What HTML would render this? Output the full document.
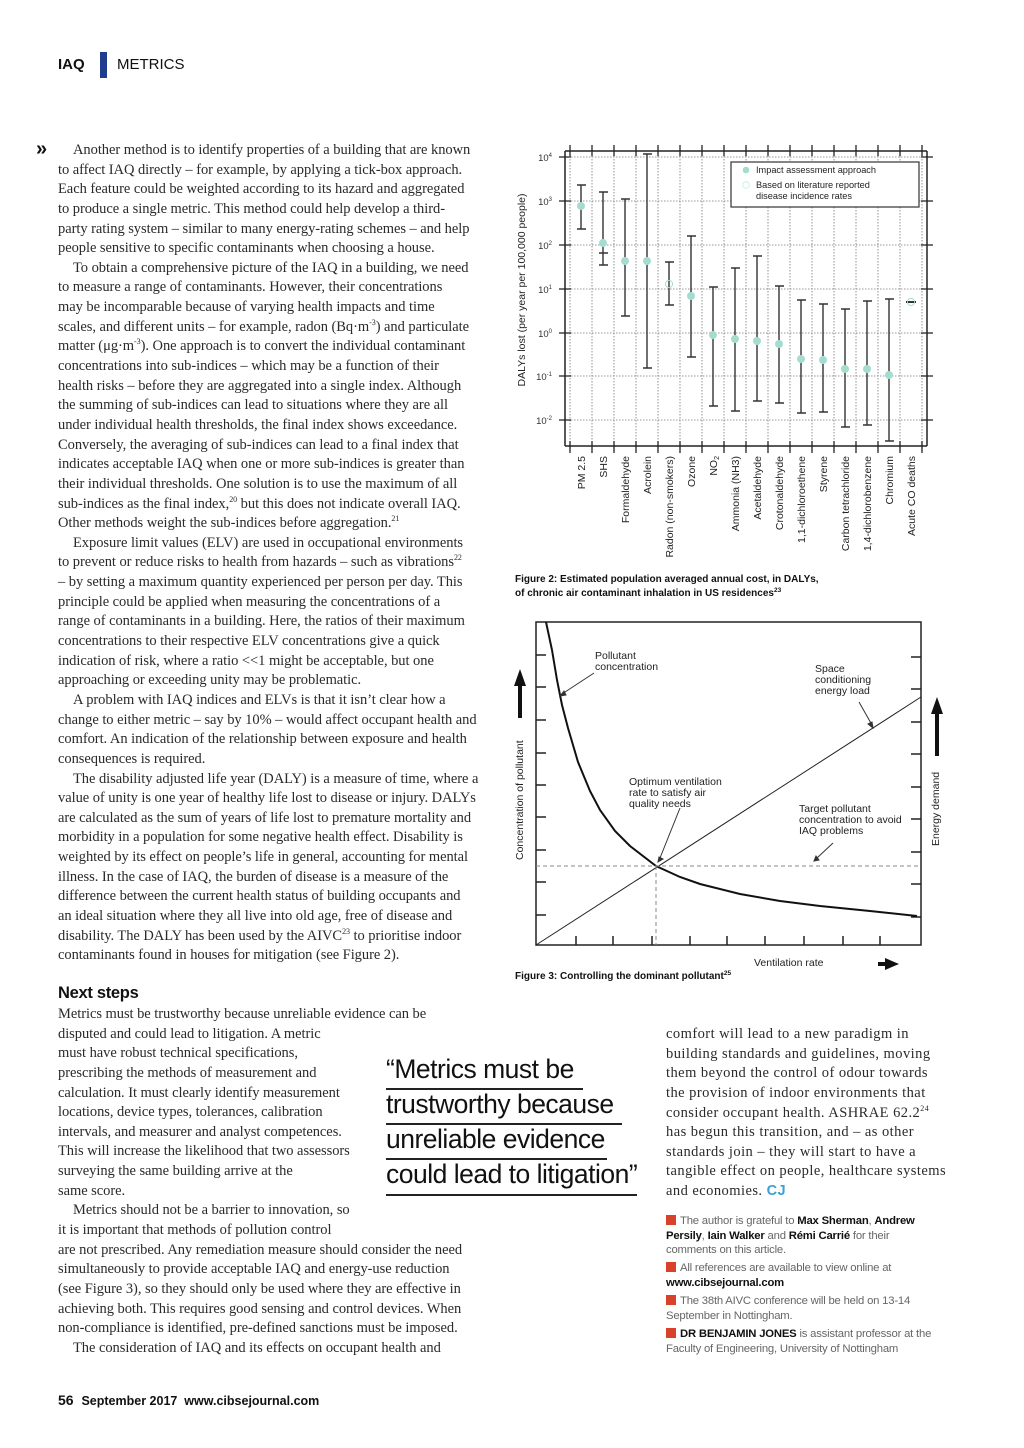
<!DOCTYPE html>
<html><head><meta charset="utf-8"><style>
body{margin:0;background:#fff;}
#p{position:relative;width:1024px;height:1448px;overflow:hidden;background:#fff;color:#222;}
.t{position:absolute;font-family:"Liberation Serif",serif;font-size:14.5px;letter-spacing:-0.05px;line-height:19.65px;white-space:nowrap;color:#2a2a2a;}
.t div{height:19.65px}
.in{padding-left:15px}
sup{font-size:8px;line-height:0}
.sans{font-family:"Liberation Sans",sans-serif;}
.n{position:absolute;left:666px;font-family:"Liberation Sans",sans-serif;font-size:11.3px;color:#666;line-height:14.6px;white-space:nowrap;letter-spacing:-0.2px}
.n b{color:#111}
.sq{display:inline-block;width:10px;height:10px;background:#d9412b;margin-right:4px;vertical-align:-1px}
.q{position:absolute;left:386px;font-family:"Liberation Sans",sans-serif;font-size:26.5px;color:#111;white-space:nowrap;letter-spacing:-0.5px}
.r{position:absolute;left:386px;height:1.5px;background:#222}
</style></head><body><div id="p">
<div class="sans" style="position:absolute;left:58px;top:56px;font-size:15px;font-weight:bold;color:#111">IAQ</div>
<div style="position:absolute;left:100px;top:52px;width:7px;height:26px;background:#1f3c8f"></div>
<div class="sans" style="position:absolute;left:117px;top:56px;font-size:15px;color:#111">METRICS</div>

<div class="sans" style="position:absolute;left:36px;top:138px;font-size:20px;font-weight:bold;color:#111">»</div>
<div class="t" style="left:58px;top:141px">
<div class="in">Another method is to identify properties of a building that are known</div>
<div>to affect IAQ directly – for example, by applying a tick-box approach.</div>
<div>Each feature could be weighted according to its hazard and aggregated</div>
<div>to produce a single metric. This method could help develop a third-</div>
<div>party rating system – similar to many energy-rating schemes – and help</div>
<div>people sensitive to specific contaminants when choosing a house.</div>
<div class="in">To obtain a comprehensive picture of the IAQ in a building, we need</div>
<div>to measure a range of contaminants. However, their concentrations</div>
<div>may be incomparable because of varying health impacts and time</div>
<div>scales, and different units – for example, radon (Bq·m<sup>-3</sup>) and particulate</div>
<div>matter (μg·m<sup>-3</sup>). One approach is to convert the individual contaminant</div>
<div>concentrations into sub-indices – which may be a function of their</div>
<div>health risks – before they are aggregated into a single index. Although</div>
<div>the summing of sub-indices can lead to situations where they are all</div>
<div>under individual health thresholds, the final index shows exceedance.</div>
<div>Conversely, the averaging of sub-indices can lead to a final index that</div>
<div>indicates acceptable IAQ when one or more sub-indices is greater than</div>
<div>their individual thresholds. One solution is to use the maximum of all</div>
<div>sub-indices as the final index,<sup>20</sup> but this does not indicate overall IAQ.</div>
<div>Other methods weight the sub-indices before aggregation.<sup>21</sup></div>
<div class="in">Exposure limit values (ELV) are used in occupational environments</div>
<div>to prevent or reduce risks to health from hazards – such as vibrations<sup>22</sup></div>
<div>– by setting a maximum quantity experienced per person per day. This</div>
<div>principle could be applied when measuring the concentrations of a</div>
<div>range of contaminants in a building. Here, the ratios of their maximum</div>
<div>concentrations to their respective ELV concentrations give a quick</div>
<div>indication of risk, where a ratio &lt;&lt;1 might be acceptable, but one</div>
<div>approaching or exceeding unity may be problematic.</div>
<div class="in">A problem with IAQ indices and ELVs is that it isn’t clear how a</div>
<div>change to either metric – say by 10% – would affect occupant health and</div>
<div>comfort. An indication of the relationship between exposure and health</div>
<div>consequences is required.</div>
<div class="in">The disability adjusted life year (DALY) is a measure of time, where a</div>
<div>value of unity is one year of healthy life lost to disease or injury. DALYs</div>
<div>are calculated as the sum of years of life lost to premature mortality and</div>
<div>morbidity in a population for some negative health effect. Disability is</div>
<div>weighted by its effect on people’s life in general, accounting for mental</div>
<div>illness. In the case of IAQ, the burden of disease is a measure of the</div>
<div>difference between the current health status of building occupants and</div>
<div>an ideal situation where they all live into old age, free of disease and</div>
<div>disability. The DALY has been used by the AIVC<sup>23</sup> to prioritise indoor</div>
<div>contaminants found in houses for mitigation (see Figure 2).</div>
</div>

<div class="sans" style="position:absolute;left:58px;top:984px;font-size:16.5px;font-weight:bold;color:#111;letter-spacing:-0.3px">Next steps</div>
<div class="t" style="left:58px;top:1005px">
<div>Metrics must be trustworthy because unreliable evidence can be</div>
<div>disputed and could lead to litigation. A metric</div>
<div>must have robust technical specifications,</div>
<div>prescribing the methods of measurement and</div>
<div>calculation. It must clearly identify measurement</div>
<div>locations, device types, tolerances, calibration</div>
<div>intervals, and measurer and analyst competences.</div>
<div>This will increase the likelihood that two assessors</div>
<div>surveying the same building arrive at the</div>
<div>same score.</div>
<div class="in">Metrics should not be a barrier to innovation, so</div>
<div>it is important that methods of pollution control</div>
<div>are not prescribed. Any remediation measure should consider the need</div>
<div>simultaneously to provide acceptable IAQ and energy-use reduction</div>
<div>(see Figure 3), so they should only be used where they are effective in</div>
<div>achieving both. This requires good sensing and control devices. When</div>
<div>non-compliance is identified, pre-defined sanctions must be imposed.</div>
<div class="in">The consideration of IAQ and its effects on occupant health and</div>
</div>

<div class="q" style="top:1054px">“Metrics must be</div>
<div class="r" style="top:1088px;width:197px"></div>
<div class="q" style="top:1089px">trustworthy because</div>
<div class="r" style="top:1123px;width:236px"></div>
<div class="q" style="top:1124px">unreliable evidence</div>
<div class="r" style="top:1158px;width:221px"></div>
<div class="q" style="top:1159px">could lead to litigation”</div>
<div class="r" style="top:1194px;width:251px"></div>

<div class="t" style="left:666px;top:1025px;letter-spacing:0.45px">
<div>comfort will lead to a new paradigm in</div>
<div>building standards and guidelines, moving</div>
<div>them beyond the control of odour towards</div>
<div>the provision of indoor environments that</div>
<div>consider occupant health. ASHRAE 62.2<sup>24</sup></div>
<div>has begun this transition, and – as other</div>
<div>standards join – they will start to have a</div>
<div>tangible effect on people, healthcare systems</div>
<div>and economies. <b class="sans" style="color:#3a9fd6">CJ</b></div>
</div>

<div class="n" style="top:1214px"><span class="sq"></span>The author is grateful to <b>Max Sherman</b>, <b>Andrew</b><br><b>Persily</b>, <b>Iain Walker</b> and <b>Rémi Carrié</b> for their<br>comments on this article.</div>
<div class="n" style="top:1261px"><span class="sq"></span>All references are available to view online at<br><b>www.cibsejournal.com</b></div>
<div class="n" style="top:1294px"><span class="sq"></span>The 38th AIVC conference will be held on 13-14<br>September in Nottingham.</div>
<div class="n" style="top:1327px"><span class="sq"></span><b>DR BENJAMIN JONES</b> is assistant professor at the<br>Faculty of Engineering, University of Nottingham</div>

<div class="sans" style="position:absolute;left:58px;top:1392px;font-size:14px;font-weight:bold;color:#111">56 <span style="font-size:12.5px;margin-left:4px">September 2017 &nbsp;www.cibsejournal.com</span></div>

<svg width="1024" height="1448" style="position:absolute;left:0;top:0" font-family="Liberation Sans, sans-serif">
<g stroke="#777" stroke-width="0.8" stroke-dasharray="1.5,1.5">
<line x1="570" y1="150" x2="570" y2="446"/><line x1="592" y1="150" x2="592" y2="446"/><line x1="614" y1="150" x2="614" y2="446"/><line x1="636" y1="150" x2="636" y2="446"/><line x1="658" y1="150" x2="658" y2="446"/><line x1="680" y1="150" x2="680" y2="446"/><line x1="702" y1="150" x2="702" y2="446"/><line x1="724" y1="150" x2="724" y2="446"/><line x1="746" y1="150" x2="746" y2="446"/><line x1="768" y1="150" x2="768" y2="446"/><line x1="790" y1="150" x2="790" y2="446"/><line x1="812" y1="150" x2="812" y2="446"/><line x1="834" y1="150" x2="834" y2="446"/><line x1="856" y1="150" x2="856" y2="446"/><line x1="878" y1="150" x2="878" y2="446"/><line x1="900" y1="150" x2="900" y2="446"/><line x1="922" y1="150" x2="922" y2="446"/>
<line x1="565" y1="157" x2="927" y2="157"/><line x1="565" y1="201" x2="927" y2="201"/><line x1="565" y1="245" x2="927" y2="245"/><line x1="565" y1="289" x2="927" y2="289"/><line x1="565" y1="333" x2="927" y2="333"/><line x1="565" y1="376" x2="927" y2="376"/><line x1="565" y1="420" x2="927" y2="420"/>
</g>
<g stroke="#222" stroke-width="1.5" fill="none">
<line x1="565" y1="151" x2="927" y2="151"/><line x1="565" y1="446" x2="927" y2="446"/><line x1="565" y1="151" x2="565" y2="446"/><line x1="927" y1="151" x2="927" y2="446"/>
</g>
<g stroke="#222" stroke-width="1.3">
<path d="M570 145v11M592 145v11M614 145v11M636 145v11M658 145v11M680 145v11M702 145v11M724 145v11M746 145v11M768 145v11M790 145v11M812 145v11M834 145v11M856 145v11M878 145v11M900 145v11M922 145v11"/>
<path d="M570 441v12M592 441v12M614 441v12M636 441v12M658 441v12M680 441v12M702 441v12M724 441v12M746 441v12M768 441v12M790 441v12M812 441v12M834 441v12M856 441v12M878 441v12M900 441v12M922 441v12"/>
<path d="M559 157h12M559 201h12M559 245h12M559 289h12M559 333h12M559 376h12M559 420h12M921 157h12M921 201h12M921 245h12M921 289h12M921 333h12M921 376h12M921 420h12"/>
</g>
<g stroke="#333" stroke-width="1.4">
<path d="M581 185v44M577 185h9M577 229h9"/>
<path d="M603 192v73M599 192h9M599 265h9M599 253h9"/>
<path d="M625 199v117M621 199h9M621 316h9"/>
<path d="M647 154v214M643 154h9M643 368h9"/>
<path d="M669 262v43M665 262h9M665 305h9"/>
<path d="M691 236v121M687 236h9M687 357h9"/>
<path d="M713 287v119M709 287h9M709 406h9"/>
<path d="M735 268v143M731 268h9M731 411h9"/>
<path d="M757 256v145M753 256h9M753 401h9"/>
<path d="M779 286v117M775 286h9M775 403h9"/>
<path d="M801 300v113M797 300h9M797 413h9"/>
<path d="M823 304v108M819 304h9M819 412h9"/>
<path d="M845 309v118M841 309h9M841 427h9"/>
<path d="M867 301v124M863 301h9M863 425h9"/>
<path d="M889 299v142M885 299h9M885 441h9"/>
<path d="M906 302h10" stroke-width="2"/>
</g>
<g fill="#a6dccf">
<circle cx="581" cy="206" r="4"/><circle cx="603" cy="243" r="4"/><circle cx="625" cy="261" r="4"/><circle cx="647" cy="261" r="4"/><circle cx="691" cy="296" r="4"/><circle cx="713" cy="335" r="4"/><circle cx="735" cy="339" r="4"/><circle cx="757" cy="341" r="4"/><circle cx="779" cy="344" r="4"/><circle cx="801" cy="359" r="4"/><circle cx="823" cy="360" r="4"/><circle cx="845" cy="369" r="4"/><circle cx="867" cy="369" r="4"/><circle cx="889" cy="375" r="4"/>
</g>
<circle cx="669" cy="284" r="3.6" fill="none" stroke="#a6dccf" stroke-width="1"/>
<circle cx="911" cy="302" r="3.6" fill="none" stroke="#a6dccf" stroke-width="1"/>
<rect x="731" y="162" width="188" height="45" fill="#fff" stroke="#333" stroke-width="1.2"/>
<circle cx="746" cy="170" r="3.3" fill="#a6dccf"/>
<circle cx="746" cy="185" r="3.3" fill="none" stroke="#cfeee6" stroke-width="1"/>
<g font-size="9.2" fill="#222">
<text x="756" y="173">Impact assessment approach</text>
<text x="756" y="188">Based on literature reported</text>
<text x="756" y="199">disease incidence rates</text>
</g>
<g font-size="9.5" fill="#333" text-anchor="end">
<text x="552" y="161">10<tspan font-size="6" dy="-4">4</tspan></text>
<text x="552" y="205">10<tspan font-size="6" dy="-4">3</tspan></text>
<text x="552" y="249">10<tspan font-size="6" dy="-4">2</tspan></text>
<text x="552" y="293">10<tspan font-size="6" dy="-4">1</tspan></text>
<text x="552" y="337">10<tspan font-size="6" dy="-4">0</tspan></text>
<text x="552" y="380">10<tspan font-size="6" dy="-4">-1</tspan></text>
<text x="552" y="424">10<tspan font-size="6" dy="-4">-2</tspan></text>
</g>
<text transform="translate(525,290) rotate(-90)" font-size="10.5" fill="#222" text-anchor="middle">DALYs lost (per year per 100,000 people)</text>
<g font-size="10.5" fill="#222" text-anchor="end">
<text transform="translate(585,456) rotate(-90)">PM 2.5</text>
<text transform="translate(607,456) rotate(-90)">SHS</text>
<text transform="translate(629,456) rotate(-90)">Formaldehyde</text>
<text transform="translate(651,456) rotate(-90)">Acrolein</text>
<text transform="translate(673,456) rotate(-90)">Radon (non-smokers)</text>
<text transform="translate(695,456) rotate(-90)">Ozone</text>
<text transform="translate(717,456) rotate(-90)">NO<tspan font-size="7" dy="2">2</tspan></text>
<text transform="translate(739,456) rotate(-90)">Ammonia (NH3)</text>
<text transform="translate(761,456) rotate(-90)">Acetaldehyde</text>
<text transform="translate(783,456) rotate(-90)">Crotonaldehyde</text>
<text transform="translate(805,456) rotate(-90)">1,1-dichloroethene</text>
<text transform="translate(827,456) rotate(-90)">Styrene</text>
<text transform="translate(849,456) rotate(-90)">Carbon tetrachloride</text>
<text transform="translate(871,456) rotate(-90)">1,4-dichlorobenzene</text>
<text transform="translate(893,456) rotate(-90)">Chromium</text>
<text transform="translate(915,456) rotate(-90)">Acute CO deaths</text>
</g>
<g font-size="10" font-weight="bold" fill="#111">
<text x="515" y="582">Figure 2: Estimated population averaged annual cost, in DALYs,</text>
<text x="515" y="596">of chronic air contaminant inhalation in US residences<tspan font-size="6.5" dy="-4">23</tspan></text>
</g>

<rect x="536" y="622" width="385" height="323" fill="none" stroke="#222" stroke-width="1.5"/>
<g stroke="#222" stroke-width="1.5">
<path d="M536 655h10M536 687h10M536 720h10M536 753h10M536 785h10M536 817h10M536 850h10M536 882h10M536 915h10"/>
<path d="M911 657h10M911 689h10M911 722h10M911 754h10M911 787h10M911 819h10M911 852h10M911 884h10M911 917h10"/>
<path d="M576 945v-9M613 945v-9M652 945v-9M690 945v-9M727 945v-9M765 945v-9M804 945v-9M843 945v-9M880 945v-9"/>
</g>
<line x1="536" y1="945" x2="921" y2="697" stroke="#222" stroke-width="1"/>
<polyline fill="none" stroke="#111" stroke-width="2" points="546,622 552,650 557,680 562,705 568,728 578,762 590,791 600,810 615,831 630,846 656,866 680,877 700,884 740,894 780,901 820,906 870,911 917,916"/>
<g stroke="#888" stroke-width="1" stroke-dasharray="4,3">
<line x1="536" y1="866" x2="921" y2="866"/><line x1="656" y1="866" x2="656" y2="945"/>
</g>
<g stroke="#333" stroke-width="1" fill="#333">
<path d="M594 673L562 694" /><path d="M560 696l6-1-2-4z"/>
<path d="M859 702L872 725"/><path d="M873 728l-1-6-4 2z"/>
<path d="M680 808L660 858"/><path d="M658 862l5-3-4-2z"/>
<path d="M833 843L817 858"/><path d="M814 861l5-1-3-4z"/>
</g>
<g fill="#111">
<rect x="518" y="684" width="4" height="34"/><path d="M514 686l6-17 6 17z"/>
<rect x="935" y="712" width="4" height="44"/><path d="M931 714l6-17 6 17z"/>
<rect x="878" y="962" width="10" height="4"/><path d="M885 958l14 6-14 6z"/>
</g>
<g font-size="10.5" fill="#222">
<text x="595" y="659">Pollutant</text><text x="595" y="670">concentration</text>
<text x="815" y="672">Space</text><text x="815" y="683">conditioning</text><text x="815" y="694">energy load</text>
<text x="629" y="785">Optimum ventilation</text><text x="629" y="796">rate to satisfy air</text><text x="629" y="807">quality needs</text>
<text x="799" y="812">Target pollutant</text><text x="799" y="823">concentration to avoid</text><text x="799" y="834">IAQ problems</text>
<text x="754" y="966">Ventilation rate</text>
<text transform="translate(523,860) rotate(-90)">Concentration of pollutant</text>
<text transform="translate(939,846) rotate(-90)">Energy demand</text>
</g>
<text x="515" y="979" font-size="10" font-weight="bold" fill="#111">Figure 3: Controlling the dominant pollutant<tspan font-size="6.5" dy="-4">25</tspan></text>
</svg>
</div></body></html>
